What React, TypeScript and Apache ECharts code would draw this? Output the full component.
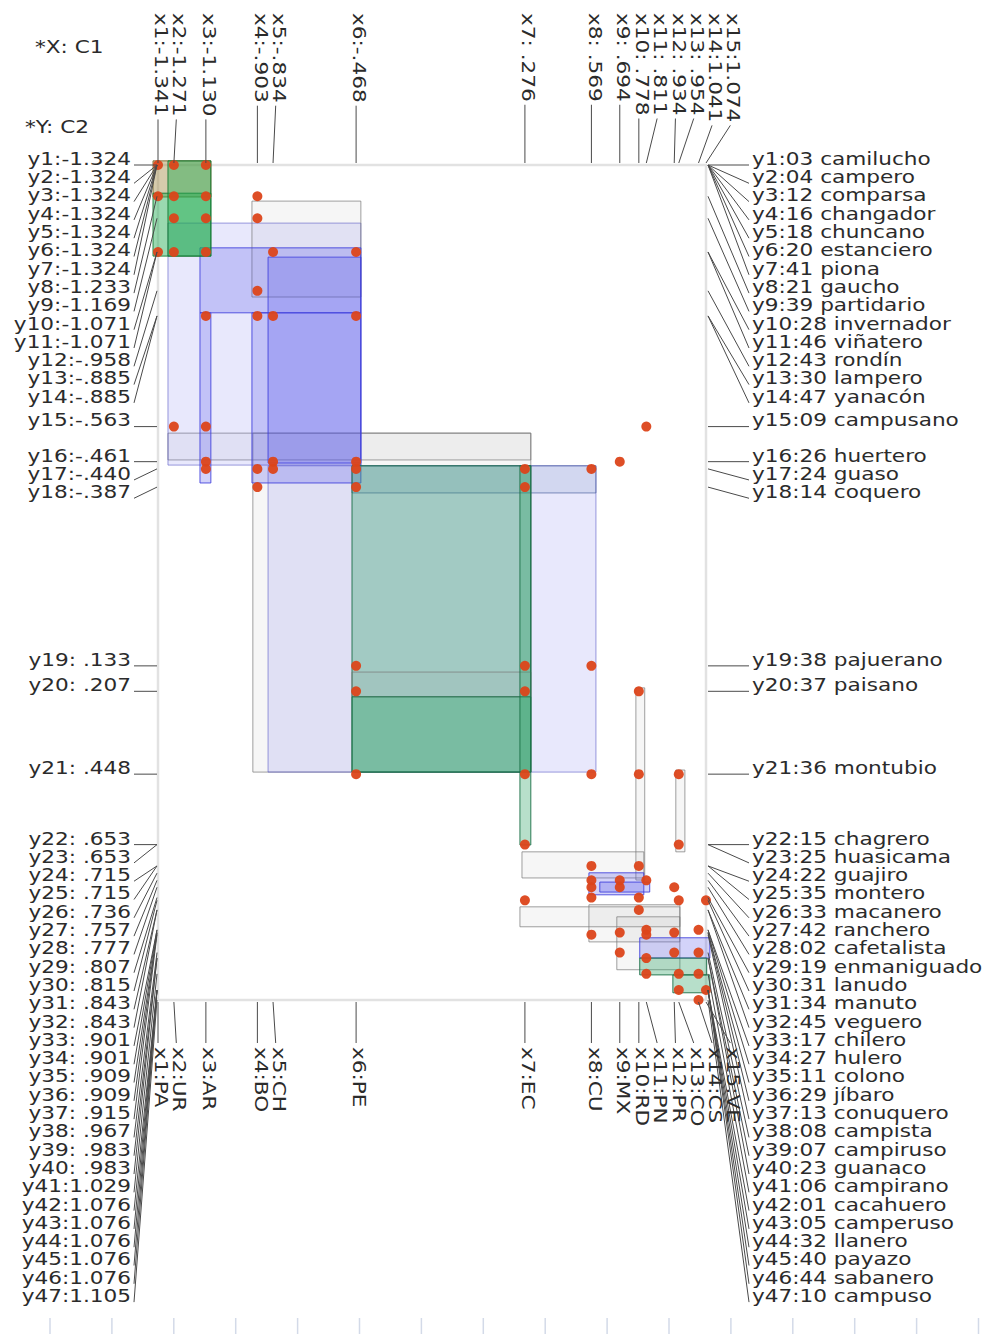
import React, { useEffect, useRef } from 'react';
import * as echarts from 'echarts';

// ---------- data ----------
const X_CODES = ['PA', 'UR', 'AR', 'BO', 'CH', 'PE', 'EC', 'CU', 'MX', 'RD', 'PN', 'PR', 'CO', 'CS', 'VE'];
const X_VALUES = [-1.341, -1.271, -1.130, -0.903, -0.834, -0.468, 0.276, 0.569, 0.694, 0.778, 0.811, 0.934, 0.954, 1.041, 1.074];

const Y_VALUES = [
  -1.324, -1.324, -1.324, -1.324, -1.324, -1.324, -1.324, -1.233, -1.169, -1.071,
  -1.071, -0.958, -0.885, -0.885, -0.563, -0.461, -0.440, -0.387, 0.133, 0.207,
  0.448, 0.653, 0.653, 0.715, 0.715, 0.736, 0.757, 0.777, 0.807, 0.815,
  0.843, 0.843, 0.901, 0.901, 0.909, 0.909, 0.915, 0.967, 0.983, 0.983,
  1.029, 1.076, 1.076, 1.076, 1.076, 1.076, 1.105,
];
const Y_NAMES = [
  '03 camilucho', '04 campero', '12 comparsa', '16 changador', '18 chuncano', '20 estanciero', '41 piona',
  '21 gaucho', '39 partidario', '28 invernador', '46 viñatero', '43 rondín', '30 lampero', '47 yanacón',
  '09 campusano', '26 huertero', '24 guaso', '14 coquero', '38 pajuerano', '37 paisano', '36 montubio',
  '15 chagrero', '25 huasicama', '22 guajiro', '35 montero', '33 macanero', '42 ranchero', '02 cafetalista',
  '19 enmaniguado', '31 lanudo', '34 manuto', '45 veguero', '17 chilero', '27 hulero', '11 colono',
  '29 jíbaro', '13 conuquero', '08 campista', '07 campiruso', '23 guanaco', '06 campirano', '01 cacahuero',
  '05 camperuso', '32 llanero', '40 payazo', '44 sabanero', '10 campuso',
];

const X_TITLE = '*X: C1';
const Y_TITLE = '*Y: C2';

// red points (x value, y value)
const DOT_X = [
  -1.341, -1.271, -1.130, -1.341, -1.271, -1.130, -1.271, -1.130, -1.341, -1.271,
  -1.130, -0.903, -0.903, -0.834, -0.468, -0.903, -1.130, -0.903, -0.834, -0.468,
  -1.271, -1.130, -1.130, -1.130, -0.903, -0.834, -0.834, -0.468, -0.468, 0.276,
  0.569, 0.694, 0.811, -0.903, -0.468, 0.276, -0.468, 0.276, 0.569, -0.468,
  0.276, 0.778, -0.468, 0.276, 0.569, 0.778, 0.954, 0.276, 0.954, 0.276,
  0.569, 0.569, 0.569, 0.569, 0.694, 0.694, 0.778, 0.811, 0.778, 0.934,
  0.954, 1.074, 0.569, 0.694, 0.694, 0.778, 0.811, 0.811, 0.811, 0.811,
  0.934, 0.934, 0.954, 0.954, 1.041, 1.041, 1.041, 1.074, 1.041,
];
const DOT_Y = [
  -1.324, -1.324, -1.324, -1.233, -1.233, -1.233, -1.169, -1.169, -1.071, -1.071,
  -1.071, -1.233, -1.169, -1.071, -1.071, -0.958, -0.885, -0.885, -0.885, -0.885,
  -0.563, -0.563, -0.461, -0.440, -0.440, -0.461, -0.440, -0.461, -0.440, -0.440,
  -0.440, -0.461, -0.563, -0.387, -0.387, -0.387, 0.133, 0.133, 0.133, 0.207,
  0.207, 0.207, 0.448, 0.448, 0.448, 0.448, 0.448, 0.653, 0.653, 0.815,
  0.715, 0.757, 0.777, 0.807, 0.757, 0.777, 0.715, 0.757, 0.807, 0.777,
  0.815, 0.815, 0.915, 0.909, 0.967, 0.843, 0.901, 0.915, 0.983, 1.029,
  0.909, 0.967, 1.029, 1.076, 0.901, 0.967, 1.029, 1.076, 1.105,
];

// rectangles (x from, x to, y from, y to, kind)
const RECT_X0 = [-0.923, -1.297, -1.297, -0.927, -0.856, -0.927, -0.856, -1.156, -1.156, -0.486, -0.486, -0.486, -0.486, 0.254, -1.363, -1.363, -1.297, 0.765, 0.941, 0.263, 0.254, 0.558, 0.681, 0.558, 0.606, 0.782, 0.782, 0.928];
const RECT_X1 = [0.302, 0.302, -0.447, -0.447, 0.589, -0.447, -0.447, -0.447, -1.108, 0.589, 0.302, 0.302, 0.302, 0.302, -1.108, -1.108, -1.108, 0.804, 0.981, 0.800, 0.959, 0.959, 0.959, 0.800, 0.826, 1.091, 1.077, 1.091];
const RECT_Y0 = [-0.544, -0.544, -1.155, -1.219, -0.449, -0.894, -1.056, -1.083, -0.894, -0.449, -0.449, 0.151, 0.223, -0.449, -1.336, -1.242, -1.336, 0.197, 0.436, 0.674, 0.834, 0.828, 0.863, 0.735, 0.762, 0.924, 0.983, 1.032];
const RECT_Y1 = [0.442, -0.466, -0.451, -0.940, 0.442, -0.399, -0.457, -0.894, -0.399, -0.370, 0.442, 0.223, 0.442, 0.654, -1.231, -1.059, -1.059, 0.756, 0.674, 0.750, 0.892, 0.936, 1.017, 0.799, 0.791, 0.983, 1.032, 1.084];
const RECT_KIND = ['gray', 'gray', 'lav', 'gray', 'lav', 'blue', 'blue', 'blue', 'blue', 'slate', 'green', 'gray', 'green', 'green', 'tan', 'lime', 'lime', 'gray', 'gray', 'gray', 'gray', 'gray', 'gray', 'blue', 'blue', 'blue', 'green', 'green'];

// ---------- styles ----------
const KIND_STYLE: Record<string, { fill: string; stroke: string }> = {
  gray: { fill: 'rgba(150,150,150,0.09)', stroke: 'rgba(120,120,120,0.7)' },
  lav: { fill: 'rgba(120,120,235,0.17)', stroke: 'rgba(90,90,200,0.6)' },
  blue: { fill: 'rgba(80,80,230,0.25)', stroke: 'rgba(60,60,220,0.85)' },
  slate: { fill: 'rgba(110,140,190,0.18)', stroke: 'rgba(80,100,160,0.7)' },
  green: { fill: 'rgba(45,160,100,0.34)', stroke: 'rgba(25,110,70,0.9)' },
  lime: { fill: 'rgba(30,170,80,0.45)', stroke: 'rgba(20,120,50,0.9)' },
  tan: { fill: 'rgba(165,140,70,0.45)', stroke: 'rgba(120,100,40,0.9)' },
};

const FONT_FAMILY = '"DejaVu Sans", Verdana, sans-serif';
const FS = 18;
const SX = 1.2;
const GAP = 18.3;
const TEXT_COLOR = '#2b2b2b';
const LINE_COLOR = '#4a4a4a';

function fmt(v: number): string {
  const a = Math.abs(v);
  const s = a < 1 ? a.toFixed(3).slice(1) : a.toFixed(3);
  if (v < 0) return '-' + s;
  return a < 1 ? ' ' + s : s;
}

function spread(p: number[]): number[] {
  const out: number[] = [];
  p.forEach((v, i) => {
    out.push(i === 0 ? v : Math.max(v, out[i - 1] + GAP));
  });
  return out;
}

export default function App() {
  const ref = useRef<HTMLDivElement>(null);

  useEffect(() => {
    const el = ref.current!;
    const chart = echarts.init(el, null, { renderer: 'svg' });

    const rectData = RECT_X0.map((v, i) => [v, RECT_X1[i], RECT_Y0[i], RECT_Y1[i]]);
    const dotData = DOT_X.map((v, i) => [v, DOT_Y[i]]);

    chart.setOption({
      animation: false,
      grid: {
        left: 158, top: 165, width: 548, height: 835,
        show: true, borderColor: '#e2e2e2', borderWidth: 2.5, backgroundColor: 'transparent',
      },
      xAxis: { type: 'value', min: -1.341, max: 1.074, show: false },
      yAxis: { type: 'value', min: -1.324, max: 1.105, inverse: true, show: false },
      series: [
        {
          type: 'custom',
          data: rectData,
          encode: { x: [0, 1], y: [2, 3] },
          clip: false,
          z: 2,
          renderItem: (params: any, api: any) => {
            const p0 = api.coord([api.value(0), api.value(2)]);
            const p1 = api.coord([api.value(1), api.value(3)]);
            const st = KIND_STYLE[RECT_KIND[params.dataIndex]];
            return {
              type: 'rect',
              shape: {
                x: Math.min(p0[0], p1[0]),
                y: Math.min(p0[1], p1[1]),
                width: Math.abs(p1[0] - p0[0]),
                height: Math.abs(p1[1] - p0[1]),
              },
              style: { fill: st.fill, stroke: st.stroke, lineWidth: 1 },
            };
          },
        },
        {
          type: 'scatter',
          data: dotData,
          symbol: 'circle',
          symbolSize: 10,
          z: 5,
          itemStyle: { color: '#dc441a', opacity: 0.95 },
        },
      ],
    });

    // ---- label layout via the chart's own scales ----
    const ctx = document.createElement('canvas').getContext('2d')!;
    ctx.font = `${FS}px ${FONT_FAMILY}`;
    const measure = (t: string) => ctx.measureText(t).width * SX;

    const toPx = (x: number) => chart.convertToPixel({ xAxisIndex: 0 }, x) as number;
    const toPy = (y: number) => chart.convertToPixel({ yAxisIndex: 0 }, y) as number;

    const pxs = X_VALUES.map(toPx);
    const pys = Y_VALUES.map(toPy);
    const axs = spread(pxs);
    const ays = spread(pys);

    const plotLeft = toPx(-1.341) - 1;
    const plotRight = toPx(1.074) + 2;
    const plotTop = toPy(-1.324) - 2;
    const plotBottom = toPy(1.105) + 2;

    const elements: any[] = [];
    const text = (t: string, x: number, y: number, align: string, rotation = 0) => ({
      type: 'text', x, y, rotation, scaleX: SX, scaleY: 1, silent: true, z: 10,
      style: {
        text: t, fill: TEXT_COLOR, fontSize: FS, fontFamily: FONT_FAMILY,
        align, textAlign: align, verticalAlign: 'middle', textVerticalAlign: 'middle',
      },
    });
    const line = (x1: number, y1: number, x2: number, y2: number) => ({
      type: 'line', silent: true, z: 9,
      shape: { x1, y1, x2, y2 },
      style: { stroke: LINE_COLOR, lineWidth: 1 },
    });

    // titles
    elements.push(text(X_TITLE, 35, 47, 'left'));
    elements.push(text(Y_TITLE, 25, 127, 'left'));

    // y labels left & right
    Y_VALUES.forEach((v, i) => {
      const ay = ays[i];
      const py = pys[i];
      elements.push(text(`y${i + 1}:${fmt(v)}`, 131, ay - 6, 'right'));
      elements.push(line(134, ay, plotLeft, py));
      elements.push(text(`y${i + 1}:${Y_NAMES[i]}`, 752, ay - 6, 'left'));
      elements.push(line(plotRight, py, 749, ay));
    });

    // x labels top & bottom (rotated clockwise)
    const topStart = 13;
    const bottomStart = 1047;
    X_VALUES.forEach((v, j) => {
      const ax = axs[j];
      const px = pxs[j];
      const tTop = `x${j + 1}:${fmt(v)}`;
      elements.push(text(tTop, ax + 3, topStart, 'left', -Math.PI / 2));
      elements.push(line(ax, topStart + measure(tTop) + 3, px, plotTop));
      const tBot = `x${j + 1}:${X_CODES[j]}`;
      elements.push(text(tBot, ax + 3, bottomStart, 'left', -Math.PI / 2));
      elements.push(line(px, plotBottom, ax, bottomStart - 4));
    });

    // faint marks along the bottom edge of the page
    for (let k = 0; k < 16; k++) {
      const x = 50 + k * 61.9;
      elements.push({
        type: 'line', silent: true, z: 1,
        shape: { x1: x, y1: 1318, x2: x, y2: 1334 },
        style: { stroke: '#d3dae8', lineWidth: 1.5 },
      });
    }

    chart.setOption({ graphic: { elements } });

    return () => chart.dispose();
  }, []);

  return (
    <div
      ref={ref}
      style={{ position: 'absolute', left: 0, top: 0, width: 985, height: 1334, background: '#ffffff' }}
    />
  );
}
